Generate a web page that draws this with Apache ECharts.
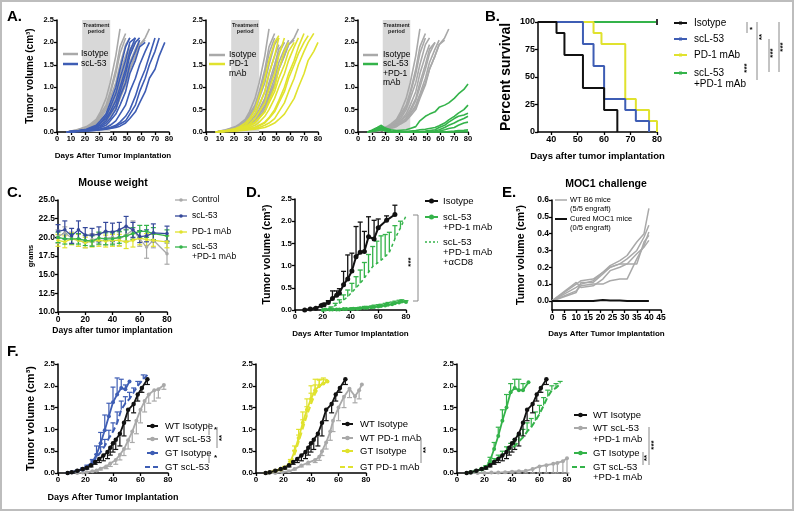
<!DOCTYPE html>
<html><head><meta charset="utf-8">
<script src="https://cdn.jsdelivr.net/npm/echarts@6.0.0/dist/echarts.min.js"></script>
<style>html,body{margin:0;padding:0;background:#fff}#c{width:796px;height:513px}</style>
</head><body><div id="c"></div><script>
const FONT = '"Liberation Sans", Arial, sans-serif';
const GRAY='#a9a9a9', BLACK='#111111', BLUE='#3e5db4', YELLOW='#e0e22e', GREEN='#34b34a', CBLUE='#34489a';

// ---------- Panel A : individual tumour curves ----------
const aDays = [7,10,14,17,21,24,28,31,35,38,42,45,49,52,56,59,63,66,70,73,77,80];
const aTreatment = [18, 38];
const aIsotype = [
 [0,0.02,0.05,0.08,0.12,0.18,0.28,0.45,0.75,1.1,1.7,2.3],
 [0,0.02,0.04,0.07,0.1,0.15,0.25,0.4,0.6,0.9,1.4,1.9,2.2],
 [0,0.01,0.03,0.06,0.1,0.14,0.2,0.3,0.5,0.75,1.1,1.5,1.95,2.1],
 [0,0.01,0.03,0.05,0.08,0.11,0.17,0.25,0.4,0.6,0.9,1.3,1.7,1.95],
 [0,0.01,0.02,0.04,0.07,0.1,0.14,0.2,0.3,0.45,0.7,1.0,1.4,1.75,2.0],
 [0,0.01,0.02,0.05,0.1,0.15,0.2,0.26,0.35,0.5,0.75,1.1,1.5,1.85,2.0],
 [0,0.01,0.02,0.04,0.08,0.12,0.16,0.22,0.3,0.4,0.6,0.85,1.2,1.55,1.85,2.05],
 [0,0.01,0.02,0.03,0.05,0.08,0.12,0.18,0.25,0.35,0.5,0.75,1.05,1.4,1.7,1.95,2.05],
 [0,0.01,0.02,0.04,0.06,0.1,0.14,0.2,0.28,0.4,0.55,0.8,1.1,1.4,1.7,1.95,2.1,2.3],
 [0,0.01,0.03,0.05,0.09,0.14,0.22,0.35,0.55,0.85,1.3,1.75,2.1]
];
const aScl53 = [
 [0,0.01,0.02,0.03,0.05,0.08,0.12,0.2,0.35,0.55,0.85,1.2,1.6,2.0,2.1],
 [0,0.01,0.02,0.03,0.04,0.06,0.1,0.15,0.25,0.4,0.6,0.9,1.3,1.7,2.0,2.1],
 [0,0.01,0.02,0.03,0.04,0.05,0.07,0.1,0.15,0.25,0.4,0.6,0.9,1.3,1.6,1.9,2.0],
 [0,0,0.01,0.02,0.03,0.04,0.05,0.07,0.1,0.15,0.25,0.4,0.6,0.9,1.2,1.5,1.8,2.0],
 [0,0,0.01,0.02,0.03,0.04,0.05,0.06,0.08,0.1,0.15,0.22,0.35,0.5,0.8,1.1,1.4,1.7,2.1],
 [0,0,0.01,0.02,0.02,0.03,0.04,0.05,0.07,0.09,0.12,0.18,0.25,0.4,0.6,0.9,1.2,1.5,1.8,2.1],
 [0,0,0.01,0.01,0.02,0.03,0.04,0.05,0.06,0.08,0.1,0.13,0.2,0.3,0.45,0.65,0.9,1.2,1.4,1.7,2.0],
 [0,0.01,0.02,0.03,0.05,0.08,0.12,0.2,0.3,0.45,0.7,1.0,1.4,1.8,2.1],
 [0,0.01,0.02,0.04,0.06,0.1,0.15,0.25,0.4,0.65,1.0,1.4,1.9,2.1],
 [0,0.01,0.02,0.03,0.04,0.06,0.08,0.12,0.2,0.3,0.5,0.8,1.1,1.5,1.8,2.05]
];
const aPd1 = [
 [0,0.01,0.03,0.05,0.08,0.12,0.2,0.3,0.5,0.8,1.2,1.6,2.0,2.15],
 [0,0.01,0.02,0.04,0.06,0.1,0.15,0.25,0.4,0.6,0.9,1.3,1.7,2.1],
 [0,0.01,0.02,0.03,0.05,0.08,0.12,0.18,0.3,0.45,0.65,0.95,1.3,1.7,2.1],
 [0,0.01,0.02,0.03,0.04,0.06,0.09,0.13,0.2,0.3,0.45,0.7,1.0,1.4,1.8,2.0],
 [0,0.01,0.02,0.03,0.04,0.05,0.07,0.1,0.15,0.22,0.35,0.5,0.75,1.0,1.3,1.6,1.9,2.1],
 [0,0,0.01,0.02,0.03,0.04,0.05,0.07,0.1,0.15,0.22,0.32,0.5,0.7,1.0,1.3,1.6,1.9,2.2],
 [0,0,0.01,0.02,0.03,0.04,0.05,0.06,0.08,0.1,0.15,0.2,0.3,0.45,0.65,0.9,1.2,1.5,1.8,2.0,2.2],
 [0,0,0.01,0.01,0.02,0.03,0.04,0.05,0.06,0.08,0.1,0.14,0.2,0.28,0.4,0.55,0.75,1.0,1.3,1.6,1.8,2.0],
 [0,0.01,0.02,0.03,0.05,0.07,0.1,0.15,0.22,0.32,0.45,0.65,0.9,1.2,1.5,1.8,2.0],
 [0,0.01,0.02,0.03,0.04,0.05,0.06,0.08,0.1,0.14,0.2,0.3,0.45,0.65,0.9,1.2,1.5,1.75,2.0,2.15]
];
const aCombo = [
 [0,0.03,0.08,0.12,0.08,0.05,0.03,0.04,0.05,0.08,0.12,0.25,0.35,0.4,0.45,0.55,0.6,0.65,0.75,0.85,0.95,1.07],
 [0,0.04,0.1,0.15,0.05,0.02,0.01,0.01,0.01,0.02,0.03,0.05,0.06,0.08,0.1,0.14,0.2,0.27,0.35,0.42,0.5,0.6],
 [0,0.03,0.07,0.1,0.03,0.01,0,0,0,0,0,0.01,0.02,0.03,0.05,0.1,0.15,0.22,0.3,0.35,0.38,0.42],
 [0,0.02,0.05,0.08,0.02,0,0,0,0,0,0,0,0.01,0.02,0.02,0.05,0.1,0.15,0.2,0.25,0.3,0.35],
 [0,0.02,0.04,0.06,0.02,0,0,0,0,0,0,0,0,0,0.01,0.02,0.05,0.08,0.1,0.15,0.2,0.22],
 [0,0.02,0.05,0.06,0.01,0,0,0,0,0,0,0,0,0,0,0,0,0.01,0.02,0.03,0.04,0.05],
 [0,0.01,0.03,0.05,0.01,0,0,0,0,0,0,0,0,0,0,0,0,0,0,0.01,0.02,0.02],
 [0,0.02,0.04,0.07,0.02,0,0,0,0,0,0,0,0,0,0,0,0,0,0,0,0,0]
];

// ---------- Panel B : survival ----------
const bIsotype = [[35,100],[42,100],[42,90],[45,90],[45,70],[52,70],[52,40],[60,40],[60,20],[65,20],[65,0]];
const bScl53 = [[35,100],[52,100],[52,80],[56,80],[56,60],[60,60],[60,30],[68,30],[68,20],[72,20],[72,10],[77,10],[77,0]];
const bPd1 = [[35,100],[56,100],[56,90],[59,90],[59,80],[68,80],[68,30],[72,30],[72,20],[77,20],[77,10],[80,10],[80,0]];
const bCombo = [[35,100],[80,100]];
const bXTicks = [40,50,60,70,80];

// ---------- Panel C : mouse weight ----------
const cDays = [0,5,10,15,20,25,30,35,40,45,50,55,60,65,70,80];
const cControl = [20.1,20.6,19.9,19.6,19.4,19.7,19.8,19.9,20.0,19.8,20.3,21.0,19.8,18.7,19.6,17.8];
const cControlErr = [0.9,0.8,0.8,0.8,0.8,0.8,0.8,0.9,0.8,0.9,0.8,1.2,1.0,1.5,1.0,1.4];
const cScl53 = [20.8,21.0,20.2,21.0,20.3,20.3,20.4,20.8,20.7,21.0,21.5,21.0,20.1,20.2,20.6,20.5];
const cScl53Err = [0.9,1.2,1.0,1.2,1.0,0.9,1.0,1.2,1.2,1.0,1.3,1.0,0.8,0.8,1.2,1.0];
const cPd1 = [19.6,19.4,19.8,19.6,19.3,19.5,19.6,19.5,19.6,19.6,19.4,19.6,19.9,19.7,19.6,19.4];
const cPd1Err = [0.8,0.8,0.8,0.8,0.7,0.8,0.8,0.8,0.8,0.8,0.9,0.9,0.9,0.8,0.8,0.8];
const cCombo = [20.0,19.8,19.8,19.8,19.6,19.5,19.9,19.8,19.8,20.0,20.2,20.5,20.8,20.8,20.5,20.2];
const cComboErr = [0.7,0.7,0.7,0.7,0.7,0.7,0.8,0.8,0.8,0.8,0.8,0.8,0.8,0.8,0.8,0.8];

// ---------- Panel D ----------
const dIsoX = [7,11,15,19,21,24,27,30,32,35,38,41,44,47,50,53,57,60,66,72];
const dIsoY = [0,0.02,0.04,0.1,0.12,0.17,0.26,0.33,0.38,0.57,0.7,0.88,1.2,1.3,1.32,1.65,1.6,1.85,2.02,2.15];
const dIsoE = [0,0,0.01,0.02,0.03,0.04,0.17,0.1,0.1,0.3,0.54,0.4,0.68,0.68,0.45,0.45,0.42,0.2,0.1,0.21];
const dComboX = [20,22,25,27,30,32,35,37,40,42,45,47,50,52,55,57,60,62,65,67,70,72,75,77,80];
const dComboY = [0,0.01,0.01,0.01,0.01,0.01,0.02,0.02,0.02,0.03,0.03,0.04,0.05,0.05,0.06,0.07,0.08,0.09,0.1,0.12,0.13,0.15,0.17,0.19,0.18];
const dComboE = [0,0,0.01,0.01,0.01,0.01,0.01,0.01,0.02,0.02,0.02,0.02,0.03,0.03,0.03,0.04,0.04,0.04,0.05,0.05,0.05,0.05,0.05,0.04,0.03];
const dCd8X = [20,23,26,29,32,35,38,41,44,47,50,53,56,59,62,65,68,72,76,80];
const dCd8Y = [0,0.02,0.05,0.1,0.15,0.22,0.3,0.4,0.5,0.6,0.72,0.85,0.98,1.05,1.12,1.2,1.3,1.6,1.85,2.12];
const dCd8E = [0,0,0.02,0.05,0.08,0.12,0.15,0.2,0.25,0.3,0.35,0.4,0.45,0.5,0.55,0.5,0.45,0.3,0.15,0];

// ---------- Panel E ----------
const eDays = [0,10,12,17,21,24,28,31,35,38,40];
const eWt = [
 [0,0.1,0.12,0.13,0.17,0.21,0.24,0.27,0.35,0.4,0.55],
 [0,0.08,0.1,0.12,0.17,0.2,0.22,0.25,0.3,0.38,0.45],
 [0,0.06,0.09,0.1,0.1,0.12,0.13,0.13,0.25,0.33,0.41],
 [0,0.11,0.08,0.09,0.13,0.18,0.2,0.22,0.22,0.35,0.39],
 [0,0.05,0.11,0.11,0.16,0.2,0.22,0.22,0.28,0.32,0.36]
];
const eCured = [0,0,0,0,0.005,0.003,0.002,0,0,0,0];
const eYTicks = [0,0.1,0.2,0.3,0.4,0.5,0.6];

// ---------- Panel F ----------
const fWtIsoX = [7,10,14,18,21,24,27,30,33,36,38,40,42,45,48,51,55,58,61,65];
const fWtIsoY = [0,0.02,0.05,0.09,0.12,0.18,0.25,0.32,0.4,0.48,0.58,0.68,0.76,0.9,1.15,1.45,1.58,1.8,1.95,2.15];
const fWtIsoE = [0,0,0.01,0.02,0.03,0.04,0.05,0.08,0.12,0.15,0.17,0.2,0.22,0.28,0.3,0.25,0.2,0.15,0.1,0.12];
// F1
const fWtSclX = [14,18,21,25,28,31,35,38,42,45,48,51,54,57,60,63,66,70,73,77];
const fWtSclY = [0,0.01,0.02,0.04,0.06,0.1,0.15,0.22,0.3,0.42,0.55,0.75,0.95,1.2,1.45,1.65,1.8,1.9,1.92,2.02];
const fWtSclE = [0,0,0,0.01,0.02,0.03,0.05,0.07,0.1,0.12,0.15,0.2,0.25,0.3,0.3,0.25,0.2,0.25,0.2,0.1];
const fGtIsoBX = [7,10,14,18,21,25,28,31,34,37,40,43,46,49,52];
const fGtIsoBY = [0,0.02,0.05,0.08,0.12,0.25,0.42,0.68,0.98,1.3,1.62,1.8,1.95,1.92,2.1];
const fGtIsoBE = [0,0,0.01,0.02,0.03,0.06,0.2,0.25,0.35,0.3,0.35,0.38,0.2,0.1,0];
const fGtSclX = [7,10,14,18,21,25,28,31,34,37,40,43,46,49,52,55,58,62,65];
const fGtSclY = [0,0.02,0.05,0.1,0.15,0.25,0.35,0.48,0.62,0.8,0.95,1.15,1.45,1.6,1.7,1.85,2.0,2.15,2.25];
const fGtSclE = [0,0,0.01,0.02,0.03,0.05,0.08,0.12,0.15,0.18,0.2,0.25,0.2,0.15,0.15,0.1,0.1,0.1,0];
// F2
const fWtPd1X = [9,14,19,24,28,33,38,43,46,48,51,54,56,60,64,68,72,75,77];
const fWtPd1Y = [0,0,0.02,0.04,0.09,0.17,0.24,0.3,0.37,0.5,0.7,0.95,1.2,1.5,1.75,1.93,1.76,1.9,2.03];
const fWtPd1E = [0,0,0,0.01,0.02,0.03,0.05,0.06,0.08,0.1,0.15,0.2,0.25,0.3,0.25,0.2,0.15,0.2,0];
const fGtIsoYX = [7,10,14,18,21,25,28,31,34,37,40,43,46,49,52];
const fGtIsoYY = [0,0.02,0.05,0.08,0.12,0.25,0.5,0.8,1.15,1.45,1.7,1.9,2.0,2.05,2.1];
const fGtIsoYE = [0,0,0.01,0.02,0.03,0.06,0.12,0.2,0.25,0.25,0.3,0.25,0.15,0.1,0];
const fGtPd1Y = [0,0.02,0.05,0.08,0.12,0.22,0.42,0.72,1.02,1.32,1.58,1.82,1.98,2.08,2.15];
const fGtPd1E = [0,0,0.01,0.02,0.03,0.05,0.1,0.15,0.2,0.2,0.25,0.2,0.15,0.1,0];
// F3
const fWtComboX = [10,15,20,25,30,35,40,45,50,55,60,65,70,73,77,80];
const fWtComboY = [0,0,0,0.01,0.01,0.02,0.03,0.04,0.05,0.09,0.15,0.18,0.21,0.23,0.27,0.34];
const fWtComboE = [0,0,0,0.01,0.01,0.02,0.03,0.04,0.05,0.09,0.15,0.18,0.21,0.23,0.27,0.34];
const fGtIsoGX = [7,10,14,18,21,24,27,30,33,36,39,42,45,48,52];
const fGtIsoGY = [0,0.02,0.05,0.08,0.12,0.28,0.55,0.85,1.2,1.5,1.85,1.95,1.9,1.9,2.08];
const fGtIsoGE = [0,0,0.01,0.02,0.03,0.08,0.15,0.2,0.25,0.3,0.2,0.2,0.25,0.15,0];
const fGtComboX = [7,10,14,18,21,24,27,30,33,36,39,42,45,48,51,54,57,60,63,66,69,72,75];
const fGtComboY = [0,0.02,0.05,0.09,0.14,0.2,0.28,0.35,0.42,0.5,0.56,0.62,0.72,0.82,0.95,1.05,1.2,1.35,1.55,1.75,1.9,1.95,2.05];
const fGtComboE = [0,0,0.01,0.02,0.03,0.04,0.05,0.06,0.08,0.1,0.12,0.15,0.15,0.18,0.2,0.2,0.2,0.2,0.18,0.15,0.1,0.1,0.05];

// ================= helpers =================
const pairs = (xs, ys) => ys.map((y,i)=>[xs[i], y]);
function curve(gi, xs, ys, color, w, z) {
  return {type:'line', xAxisIndex:gi, yAxisIndex:gi, data:pairs(xs,ys), symbol:'none',
    lineStyle:{color, width:w||1.5}, itemStyle:{color}, z:z||3, silent:true};
}
function mline(gi, xs, ys, color, o) {
  o = o || {};
  return {type:'line', xAxisIndex:gi, yAxisIndex:gi, data:pairs(xs,ys),
    symbol:o.sym||'circle', symbolSize:o.ss||4, showSymbol:true,
    lineStyle:{color, width:o.w||1.8, type:o.dash||'solid'}, itemStyle:{color}, z:o.z||4, silent:true};
}
function errBars(gi, xs, ys, es, color, dir, w) {
  return {type:'custom', xAxisIndex:gi, yAxisIndex:gi, silent:true, z:3, encode:{x:0,y:1},
    data: xs.map((x,i)=>[x, ys[i], es[i]]),
    renderItem(params, api){
      const x=api.value(0), y=api.value(1), e=api.value(2);
      if (!e) return {type:'group', children:[]};
      const p=api.coord([x,y]); const kids=[];
      const ds = dir==='both'?[1,-1]:(dir==='up'?[1]:[-1]);
      ds.forEach(d=>{ const q=api.coord([x,y+d*e]);
        kids.push({type:'line', shape:{x1:p[0],y1:p[1],x2:q[0],y2:q[1]}, style:{stroke:color, lineWidth:w||1.2}});
        kids.push({type:'line', shape:{x1:q[0]-2.5,y1:q[1],x2:q[0]+2.5,y2:q[1]}, style:{stroke:color, lineWidth:w||1.2}});
      });
      return {type:'group', children:kids};
    }};
}
const axLine = {onZero:false, lineStyle:{color:'#000', width:1.5}};
function vAxis(gi, min, max, interval, o) {
  o = o || {};
  const a = {type:'value', gridIndex:gi, min, max, interval,
    axisLine:axLine, axisTick:{show:true, length:3, lineStyle:{color:'#000', width:1.3}},
    axisLabel:{color:'#000', fontSize:o.fs||8, fontWeight:'bold', margin:3, fontFamily:FONT,
      formatter:o.fmt||(v=>String(v))},
    splitLine:{show:false}};
  if (o.custom) { delete a.interval; a.axisLabel.customValues=o.custom; a.axisTick.customValues=o.custom; }
  if (o.name) { a.name=o.name; a.nameLocation='middle'; a.nameGap=o.gap;
    a.nameTextStyle={color:'#000', fontWeight:'bold', fontSize:o.nfs, fontFamily:FONT}; }
  return a;
}
function txt(x, y, s, size, o) {
  o = o || {};
  return {type:'text', x, y, rotation:o.rot||0, z:10,
    style:{text:s, fontSize:size, fontWeight:o.bold?'bold':'normal', fontFamily:FONT, fill:o.color||'#000',
      align:o.align||'left', verticalAlign:o.va||'middle', lineHeight:o.lh||Math.round(size*1.1)}};
}
function seg(x1,y1,x2,y2,color,w,dash){return {type:'line', z:10, shape:{x1,y1,x2,y2}, style:{stroke:color||'#000', lineWidth:w||1, lineDash:dash||null}};}
function leg(x1, x2, y, tx, color, label, size, o) {
  o = o || {};
  const els = [seg(x1,y,x2,y,color,o.lw||2,o.dash)];
  if (o.dot) els.push({type:'circle', z:10, shape:{cx:(x1+x2)/2, cy:y, r:o.dot}, style:{fill:color}});
  if (o.sq) els.push({type:'rect', z:10, shape:{x:(x1+x2)/2-o.sq/2, y:y-o.sq/2, width:o.sq, height:o.sq}, style:{fill:color}});
  const lh = o.lh || Math.round(size*1.1);
  els.push(txt(tx, y - lh/2, label, size, {va:'top', lh}));
  return els;
}
function stars(x, y, s, size) { return txt(x, y, s, size||8, {bold:true, align:'center', va:'middle', rot:Math.PI/2}); }

// ================= grids =================
const grids = [
  {left:57, top:20, width:112, height:112},   // A1
  {left:206, top:20, width:112, height:112},  // A2
  {left:358, top:20, width:110, height:112},  // A3
  {left:538, top:22, width:119, height:110},  // B
  {left:58, top:200, width:109, height:112},  // C
  {left:295, top:199, width:111, height:111}, // D
  {left:552, top:200, width:109, height:110}, // E
  {left:58, top:364, width:110, height:109},  // F1
  {left:256, top:364, width:110, height:109}, // F2
  {left:457, top:364, width:110, height:109}  // F3
];
const f1 = v=>v.toFixed(1);
const xAxes = [
  vAxis(0,0,80,10,{fs:7.5, name:'Days After Tumor Implantation', gap:20, nfs:8}),
  vAxis(1,0,80,10,{fs:7.5}),
  vAxis(2,0,80,10,{fs:7.5}),
  vAxis(3,35,80,null,{fs:9, custom:bXTicks, name:'Days after tumor implantation', gap:19, nfs:9.5}),
  vAxis(4,0,80,20,{fs:8.5, name:'Days after tumor implantation', gap:14, nfs:8.5}),
  vAxis(5,0,80,20,{fs:8, name:'Days After Tumor Implantation', gap:20, nfs:8}),
  vAxis(6,0,45,5,{fs:8.5, name:'Days After Tumor Implantation', gap:20, nfs:8}),
  vAxis(7,0,80,20,{fs:8, name:'Days After Tumor Implantation', gap:20, nfs:9}),
  vAxis(8,0,80,20,{fs:8}),
  vAxis(9,0,80,20,{fs:8})
];
const yAxes = [
  vAxis(0,0,2.5,0.5,{fs:7.5, fmt:f1, name:'Tumor volume (cm³)', gap:22, nfs:10}),
  vAxis(1,0,2.5,0.5,{fs:7.5, fmt:f1}),
  vAxis(2,0,2.5,0.5,{fs:7.5, fmt:f1}),
  vAxis(3,0,100,25,{fs:9, name:'Percent survival', gap:25, nfs:14}),
  vAxis(4,10,25,2.5,{fs:8.5, fmt:f1, name:'grams', gap:23, nfs:7.5}),
  vAxis(5,0,2.5,0.5,{fs:8, fmt:f1, name:'Tumor volume (cm³)', gap:22, nfs:10.5}),
  vAxis(6,-0.054,0.6,null,{fs:8.5, fmt:f1, custom:eYTicks, name:'Tumor volume (cm³)', gap:25, nfs:10.5}),
  vAxis(7,0,2.5,0.5,{fs:8, fmt:f1, name:'Tumor volume (cm³)', gap:22, nfs:11}),
  vAxis(8,0,2.5,0.5,{fs:8, fmt:f1}),
  vAxis(9,0,2.5,0.5,{fs:8, fmt:f1})
];

// ================= series =================
const series = [];
function treatment(gi) {
  series.push({type:'line', xAxisIndex:gi, yAxisIndex:gi, data:[[aTreatment[0],0]], symbol:'none', z:1, silent:true,
    lineStyle:{opacity:0},
    markArea:{silent:true, itemStyle:{color:'#d8d8d8'},
      label:{show:true, position:'insideTop', distance:2, formatter:'Treatment\nperiod', fontSize:5.5, fontWeight:'bold',
        color:'#222', lineHeight:6, fontFamily:FONT},
      data:[[{xAxis:aTreatment[0]},{xAxis:aTreatment[1]}]]}});
}
[[0,aScl53,BLUE],[1,aPd1,YELLOW],[2,aCombo,GREEN]].forEach(([gi, curves, col])=>{
  treatment(gi);
  aIsotype.forEach(c=>series.push(curve(gi, aDays, c, GRAY, 1.6, 3)));
  curves.forEach(c=>series.push(curve(gi, aDays, c, col, 1.6, 4)));
});
// B
const bStep = (d,c,z)=>({type:'line', xAxisIndex:3, yAxisIndex:3, data:d, symbol:'none', lineStyle:{color:c, width:2}, z, silent:true});
const bc = bStep(bCombo, GREEN, 2);
bc.data = bCombo.map((p,i)=> i===bCombo.length-1 ? {value:p, symbol:'rect', symbolSize:[2,6]} : {value:p});
bc.showSymbol = true; bc.itemStyle = {color:'#333'};
series.push(bc, bStep(bPd1, YELLOW, 3), bStep(bScl53, BLUE, 4), bStep(bIsotype, BLACK, 5));
// C
[[cControl,cControlErr,GRAY],[cPd1,cPd1Err,YELLOW],[cCombo,cComboErr,GREEN],[cScl53,cScl53Err,CBLUE]].forEach(([v,e,col])=>{
  series.push(errBars(4, cDays, v, e, col, 'both', 1.2));
  series.push(mline(4, cDays, v, col, {ss:3.5, w:1.3}));
});
// D
series.push(errBars(5, dCd8X, dCd8Y, dCd8E, GREEN, 'up', 1.3));
series.push(mline(5, dCd8X, dCd8Y, GREEN, {sym:'none', w:1.5, dash:[3,3]}));
series.push(errBars(5, dComboX, dComboY, dComboE, GREEN, 'up', 1.2));
series.push(mline(5, dComboX, dComboY, GREEN, {ss:4, w:2}));
series.push(errBars(5, dIsoX, dIsoY, dIsoE, BLACK, 'up', 1.3));
series.push(mline(5, dIsoX, dIsoY, BLACK, {ss:5, w:2}));
// E
eWt.forEach(c=>series.push(curve(6, eDays, c, GRAY, 1.5, 3)));
series.push(curve(6, eDays, eCured, BLACK, 2, 4));
// F1
series.push(errBars(7, fWtSclX, fWtSclY, fWtSclE, GRAY, 'down'), mline(7, fWtSclX, fWtSclY, GRAY, {ss:4}));
series.push(errBars(7, fGtSclX, fGtSclY, fGtSclE, BLUE, 'up'), mline(7, fGtSclX, fGtSclY, BLUE, {sym:'none', dash:[6,3], w:2}));
series.push(errBars(7, fGtIsoBX, fGtIsoBY, fGtIsoBE, BLUE, 'up'), mline(7, fGtIsoBX, fGtIsoBY, BLUE, {ss:4}));
series.push(errBars(7, fWtIsoX, fWtIsoY, fWtIsoE, BLACK, 'down'), mline(7, fWtIsoX, fWtIsoY, BLACK, {ss:4.5}));
// F2
series.push(errBars(8, fWtPd1X, fWtPd1Y, fWtPd1E, GRAY, 'down'), mline(8, fWtPd1X, fWtPd1Y, GRAY, {ss:4}));
series.push(errBars(8, fGtIsoYX, fGtPd1Y, fGtPd1E, YELLOW, 'up'), mline(8, fGtIsoYX, fGtPd1Y, YELLOW, {sym:'none', dash:[6,3], w:2}));
series.push(errBars(8, fGtIsoYX, fGtIsoYY, fGtIsoYE, YELLOW, 'up'), mline(8, fGtIsoYX, fGtIsoYY, YELLOW, {ss:4}));
series.push(errBars(8, fWtIsoX, fWtIsoY, fWtIsoE, BLACK, 'down'), mline(8, fWtIsoX, fWtIsoY, BLACK, {ss:4.5}));
// F3
series.push(errBars(9, fWtComboX, fWtComboY, fWtComboE, GRAY, 'down'), mline(9, fWtComboX, fWtComboY, GRAY, {ss:4}));
series.push(errBars(9, fGtComboX, fGtComboY, fGtComboE, GREEN, 'up'), mline(9, fGtComboX, fGtComboY, GREEN, {sym:'none', dash:[6,3], w:2}));
series.push(errBars(9, fGtIsoGX, fGtIsoGY, fGtIsoGE, GREEN, 'up'), mline(9, fGtIsoGX, fGtIsoGY, GREEN, {ss:4}));
series.push(errBars(9, fWtIsoX, fWtIsoY, fWtIsoE, BLACK, 'down'), mline(9, fWtIsoX, fWtIsoY, BLACK, {ss:4.5}));

// ================= annotations (legends, labels, brackets) =================
const G = [];
G.push({type:'rect', z:0, shape:{x:1, y:1, width:792, height:509}, style:{fill:'none', stroke:'#bdbdbd', lineWidth:2}});
[['A.',7,17],['B.',485,17],['C.',7,193],['D.',246,193],['E.',502,193],['F.',7,352]].forEach(([s,x,y])=>G.push(txt(x,y,s,15,{bold:true})));
G.push(txt(113,183,'Mouse weight',10.5,{bold:true, align:'center'}));
G.push(txt(606,184,'MOC1 challenge',10.5,{bold:true, align:'center'}));
// A legends
G.push(...leg(63,78,54,81,GRAY,'Isotype',8.5,{lw:2.5}), ...leg(63,78,64,81,BLUE,'scL-53',8.5,{lw:2.5}));
G.push(...leg(209,225,55,229,GRAY,'Isotype',8.5,{lw:2.5}), ...leg(209,225,64,229,YELLOW,'PD-1\nmAb',8.5,{lw:2.5, lh:10}));
G.push(...leg(363,378,55,383,GRAY,'Isotype',8.5,{lw:2.5}), ...leg(363,378,64,383,GREEN,'scL-53\n+PD-1\nmAb',8.5,{lw:2.5, lh:9.5}));
// B legend
G.push(...leg(674,687,23,694,BLACK,'Isotype',10,{sq:3}), ...leg(674,687,39,694,BLUE,'scL-53',10,{sq:3}),
       ...leg(674,687,55,694,YELLOW,'PD-1 mAb',10,{sq:3}), ...leg(674,687,73,694,GREEN,'scL-53\n+PD-1 mAb',10,{sq:3, lh:11.5}));
// B significance
const SG = '#888';
G.push(seg(747,22,747,33,SG), txt(751,30,'*',8,{bold:true, align:'center'}));
G.push(seg(757,22,757,80,SG), stars(762,37,'**'), stars(747,68,'***'));
G.push(seg(769,39,769,72,SG), stars(773,53,'***'));
G.push(seg(779,22,779,72,SG), stars(783,47,'***'));
// C legend
G.push(...leg(175,187,200,192,GRAY,'Control',8.5,{lw:1.3, dot:1.8}), ...leg(175,187,216,192,CBLUE,'scL-53',8.5,{lw:1.3, dot:1.8}),
       ...leg(175,187,232,192,YELLOW,'PD-1 mAb',8.5,{lw:1.3, dot:1.8}), ...leg(175,187,247,192,GREEN,'scL-53\n+PD-1 mAb',8.5,{lw:1.3, dot:1.8, lh:10}));
// D legend
G.push(...leg(425,438,201,443,BLACK,'Isotype',9.5,{dot:2.5}), ...leg(425,438,217,443,GREEN,'scL-53\n+PD-1 mAb',9.5,{dot:2.5, lh:10}),
       ...leg(425,438,242,443,GREEN,'scL-53\n+PD-1 mAb\n+αCD8',9.5,{lw:1.5, dash:[2,2], lh:10}));
G.push(seg(413,215,418,215,SG), seg(418,215,418,301,SG), seg(413,301,418,301,SG), stars(411,262,'***',8));
// E legend
G.push(...leg(555,567,200,570,GRAY,'WT B6 mice\n(5/5 engraft)',7.5,{lw:1.5, lh:9}), ...leg(555,567,219,570,BLACK,'Cured MOC1 mice\n(0/5 engraft)',7.5,{lw:2, lh:9}));
// F legends
G.push(...leg(147,158,426,165,BLACK,'WT Isotype',9.5,{dot:2.3}), ...leg(147,158,439,165,GRAY,'WT scL-53',9.5,{dot:2.3}),
       ...leg(147,158,453,165,BLUE,'GT Isotype',9.5,{dot:2.3}), ...leg(145,160,467,165,BLUE,'GT scL-53',9.5,{dash:[5,3]}));
G.push(seg(209,423,209,435,SG), txt(214,430,'*',8,{bold:true}), seg(217,427,217,448,SG), stars(222,438,'**'),
       seg(209,451,209,463,SG), txt(214,458,'*',8,{bold:true}));
G.push(...leg(342,353,424,360,BLACK,'WT Isotype',9.5,{dot:2.3}), ...leg(342,353,438,360,GRAY,'WT PD-1 mAb',9.5,{dot:2.3}),
       ...leg(342,353,451,360,YELLOW,'GT Isotype',9.5,{dot:2.3}), ...leg(340,355,467,360,YELLOW,'GT PD-1 mAb',9.5,{dash:[5,3]}));
G.push(seg(421,438,421,463,SG), stars(426,450,'**'));
G.push(...leg(574,587,415,593,BLACK,'WT Isotype',9.5,{dot:2.3}), ...leg(574,587,428,593,GRAY,'WT scL-53\n+PD-1 mAb',9.5,{dot:2.3, lh:11}),
       ...leg(574,587,453,593,GREEN,'GT Isotype',9.5,{dot:2.3}), ...leg(572,588,467,593,GREEN,'GT scL-53\n+PD-1 mAb',9.5,{dash:[5,3], lh:10.5}));
G.push(seg(643,452,643,465,SG), stars(647,458,'**'), seg(649,427,649,465,SG), stars(654,445,'***'));

const chart = echarts.init(document.getElementById('c'), null, {renderer:'canvas'});
chart.setOption({backgroundColor:'#fff', animation:false, grid:grids, xAxis:xAxes, yAxis:yAxes, series, graphic:G,
  textStyle:{fontFamily:FONT}});
</script></body></html>
